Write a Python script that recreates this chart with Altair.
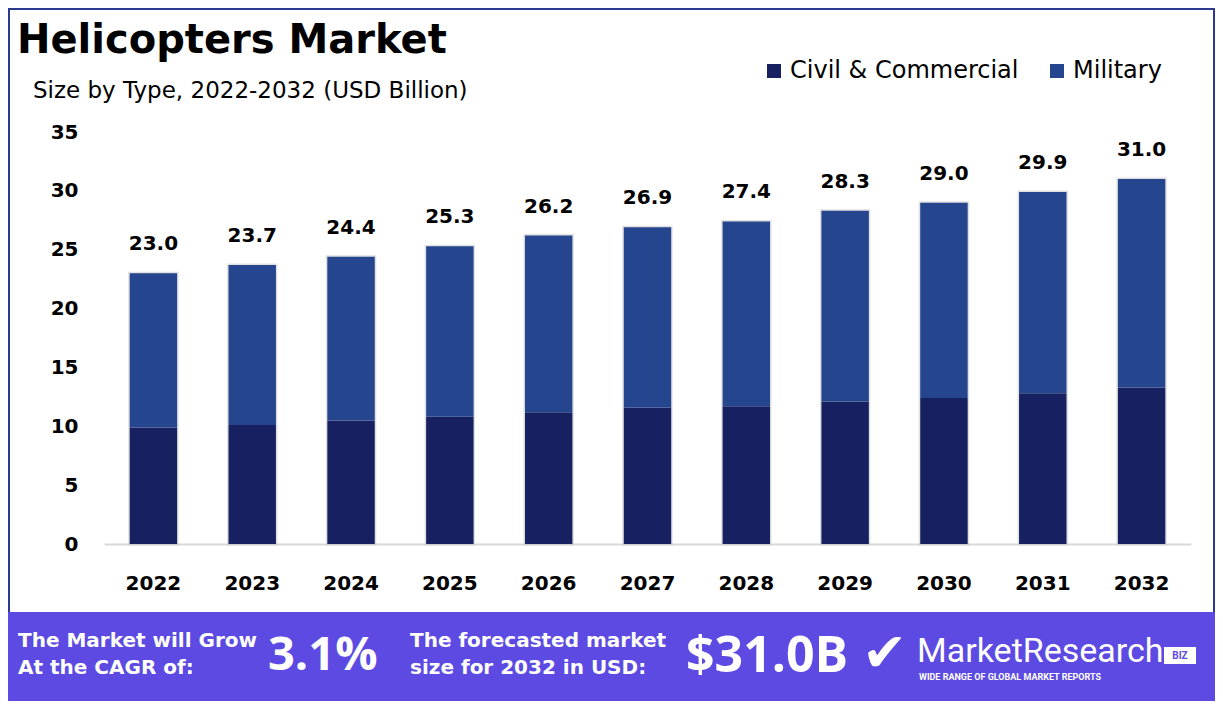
import altair as alt
import pandas as pd

years = ["2022", "2023", "2024", "2025", "2026", "2027", "2028", "2029", "2030", "2031", "2032"]
civil = [9.9, 10.1, 10.5, 10.8, 11.2, 11.6, 11.7, 12.1, 12.4, 12.8, 13.3]
military = [13.1, 13.6, 13.9, 14.5, 15.0, 15.3, 15.7, 16.2, 16.6, 17.1, 17.7]
totals = [23.0, 23.7, 24.4, 25.3, 26.2, 26.9, 27.4, 28.3, 29.0, 29.9, 31.0]
series = ["Civil & Commercial", "Military"]
colors = ["#172060", "#25458F"]
y_ticks = [0, 5, 10, 15, 20, 25, 30, 35]

FONT = "DejaVu Sans"
PW, PH = 1087, 412          # plot area
PL, PT = 96, 124            # padding left / top
TOTAL_W, TOTAL_H = 1207, 693

rows = []
for i, yr in enumerate(years):
    rows.append({"year": yr, "type": series[0], "value": civil[i], "ord": 0})
    rows.append({"year": yr, "type": series[1], "value": military[i], "ord": 1})
df = pd.DataFrame(rows)
tot_df = pd.DataFrame({"year": years, "total": totals})

xenc = alt.X("year:N", sort=years,
             scale=alt.Scale(paddingInner=0.52, paddingOuter=0.26),
             axis=alt.Axis(title=None, labelAngle=0, labelFontSize=20, labelFontWeight="bold",
                           labelFont=FONT, labelColor="#000000", labelPadding=29, ticks=False,
                           domainColor="#D9D9D9", domainWidth=2))
yscale = alt.Scale(domain=[0, 35], nice=False)
yaxis = alt.Axis(title=None, values=y_ticks, labelFontSize=20, labelFontWeight="bold", labelFont=FONT,
                 labelColor="#000000", labelPadding=26, ticks=False, domain=False, grid=False)

shadow = alt.Chart(tot_df).mark_bar(color="#FFFFFF", stroke="#C4C4C4", strokeWidth=3, strokeOpacity=0.5).encode(
    x=xenc, y=alt.Y("total:Q", scale=yscale, axis=yaxis))

bars = alt.Chart(df).mark_bar().encode(
    x=xenc,
    y=alt.Y("value:Q", stack="zero", scale=yscale, axis=yaxis),
    color=alt.Color("type:N", scale=alt.Scale(domain=series, range=colors), legend=None),
    order=alt.Order("ord:Q"))

labels = alt.Chart(tot_df).mark_text(font=FONT, fontSize=20, fontWeight="bold", color="#000000",
                                     baseline="alphabetic", dy=-23).encode(
    x=xenc, y=alt.Y("total:Q", scale=yscale), text=alt.Text("total:Q", format=".1f"))

one = pd.DataFrame({"a": [0]})


def px(x):
    return x - PL - 8


def py(y):
    return y - PT - 8


def rect(x1, y1, x2, y2, color, **kw):
    return alt.Chart(one).mark_rect(color=color, **kw).encode(
        x=alt.value(px(x1)), x2=alt.value(px(x2)), y=alt.value(py(y1)), y2=alt.value(py(y2)))


def text(t, x, y, size, weight="normal", color="#000000", align="left", baseline="middle", font=FONT, **kw):
    return alt.Chart(one).mark_text(text=t, font=font, fontSize=size, fontWeight=weight, color=color,
                                    align=align, baseline=baseline, **kw).encode(
        x=alt.value(px(x)), y=alt.value(py(y)))


border_col = "#2B3A8C"
deco = [
    # frame
    rect(8, 8, 1215, 10, border_col),
    rect(8, 8, 10, 612, border_col),
    rect(1213, 8, 1215, 612, border_col),
    # banner
    rect(8, 612, 1215, 701, "#5C4AE3"),
    # title
    text("Helicopters Market", 17, 41, 40, "bold"),
    text("Size by Type, 2022-2032 (USD Billion)", 33, 91, 23),
    # legend
    rect(767, 64, 781, 78, colors[0]),
    text(series[0], 790, 71, 24),
    rect(1050, 64, 1064, 78, colors[1]),
    text(series[1], 1073, 71, 24),
    # banner text
    text("The Market will Grow", 18, 641, 20, "bold", "#FFFFFF"),
    text("At the CAGR of:", 18, 668, 20, "bold", "#FFFFFF"),
    text("3.1%", 268, 656, 47, "bold", "#FFFFFF", font="Open Sans"),
    text("The forecasted market", 410, 641, 20, "bold", "#FFFFFF"),
    text("size for 2032 in USD:", 410, 668, 20, "bold", "#FFFFFF"),
    text("$31.0B", 686, 657, 50, "bold", "#FFFFFF", font="Open Sans"),
    text("✔", 862, 655, 54, "bold", "#FFFFFF"),
    text("MarketResearch", 917, 652, 34, "normal", "#FFFFFF", font="Roboto"),
    rect(1164, 647, 1196, 664, "#FFFFFF"),
    text("BIZ", 1180, 656, 10, "bold", "#5C4AE3", align="center", font="Roboto"),
    text("WIDE RANGE OF GLOBAL MARKET REPORTS", 919, 677, 9, "bold", "#FFFFFF", font="Roboto"),
]

chart = alt.layer(shadow, bars, labels, *deco).properties(
    width=PW, height=PH,
    autosize=alt.AutoSizeParams(type="none"),
    padding={"left": PL, "top": PT, "right": TOTAL_W - PL - PW, "bottom": TOTAL_H - PT - PH},
    background="#FFFFFF",
).configure_view(stroke=None)

chart.save("out.html", embed_options={"renderer": "svg", "actions": False})
